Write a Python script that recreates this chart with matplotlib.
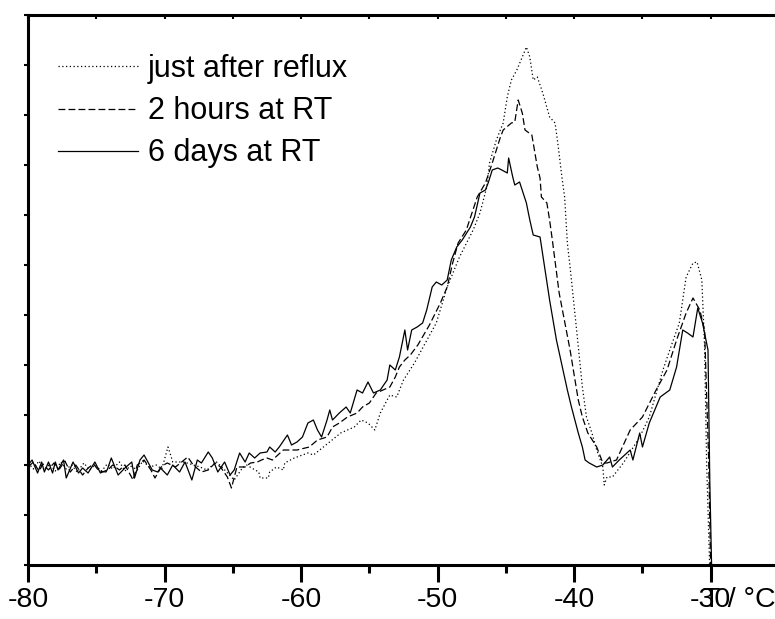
import matplotlib
matplotlib.use("Agg")
import matplotlib.pyplot as plt
import matplotlib.transforms as mtransforms

plt.rcParams['font.family'] = ['Liberation Sans', 'DejaVu Sans']

# ---------------- data (temperature in degC, signal in arbitrary units) -------------
labels = ["just after reflux", "2 hours at RT", "6 days at RT"]

t_6days = [-80.0, -79.7, -79.3, -79.0, -78.8, -78.5, -78.2, -78.0, -77.8, -77.4, -77.2,
           -76.7, -76.3, -76.0, -75.6, -75.1, -74.7, -74.2, -73.9, -73.4, -72.9, -72.4,
           -72.2, -71.8, -71.5, -70.9, -70.5, -70.3, -69.8, -69.4, -68.9, -68.5, -68.0,
           -67.6, -67.3, -66.8, -66.5, -66.1, -65.6, -65.2, -64.9, -64.5, -64.1, -63.8,
           -63.4, -63.0, -62.5, -62.3, -61.9, -61.6, -61.0, -60.7, -60.3, -59.9, -59.5,
           -59.1, -58.8, -58.5, -58.1, -57.9, -57.7, -57.2, -56.7, -56.4, -55.9, -55.5,
           -55.1, -54.7, -54.2, -53.7, -53.5, -53.1, -52.8, -52.4, -52.2, -51.9, -51.5,
           -51.1, -50.8, -50.4, -50.1, -49.7, -49.3, -49.0, -48.6, -48.2, -47.6, -47.3,
           -46.9, -46.5, -46.3, -46.0, -45.6, -45.3, -44.9, -44.8, -44.5, -44.35, -44.0,
           -43.5, -43.4, -43.25, -43.0, -42.5, -41.8, -41.3, -40.5, -40.2, -39.7, -39.4,
           -39.2, -38.9, -38.35, -37.9, -37.4, -37.2, -36.7, -35.9, -35.7, -35.2, -35.0,
           -34.5, -33.7, -33.0, -32.5, -32.05, -31.7, -31.3, -30.95, -30.6, -30.2, -30.07,
           -29.93]
s_6days = [100, 105, 92, 103, 93, 103, 92, 103, 95, 105, 87,
           103, 92, 97, 92, 103, 92, 95, 107, 90, 97, 103,
           87, 105, 110, 95, 93, 97, 90, 100, 93, 103, 85,
           105, 102, 113, 107, 93, 103, 90, 95, 112, 103, 112,
           107, 112, 113, 118, 113, 118, 130, 120, 123, 128, 142,
           145, 135, 128, 145, 155, 145, 152, 158, 152, 175, 172,
           183, 172, 175, 185, 200, 195, 208, 235, 215, 235, 238,
           242, 255, 278, 283, 280, 285, 305, 318, 325, 338, 348,
           372, 375, 382, 395, 397, 395, 392, 407, 388, 380, 383,
           362, 355, 345, 330, 328, 265, 225, 175, 158, 132, 118,
           105, 102, 98, 100, 108, 98, 105, 115, 105, 132, 118,
           142, 168, 175, 198, 235, 232, 228, 257, 242, 215, 85,
           -5]

t_2hours = [-80.0, -79.6, -79.2, -78.9, -78.5, -78.1, -77.7, -77.3, -76.9, -76.5, -76.0,
            -75.6, -75.2, -74.8, -74.3, -73.8, -73.3, -72.9, -72.3, -72.0, -71.5, -71.0,
            -70.7, -70.2, -69.8, -69.2, -68.3, -67.9, -67.3, -66.8, -66.3, -65.9, -65.4,
            -65.1, -64.7, -64.1, -63.7, -63.2, -62.9, -62.5, -62.1, -61.7, -61.3, -60.8,
            -60.3, -59.4, -58.8, -58.1, -57.7, -57.2, -56.6, -55.9, -55.5, -55.0, -54.5,
            -54.0, -53.5, -53.1, -52.8, -52.4, -52.0, -51.45, -50.6, -49.8, -49.3, -48.9,
            -48.5, -47.9, -47.1, -46.5, -46.0, -45.4, -45.2, -44.6, -44.35, -44.1, -43.8,
            -43.6, -43.1, -43.0, -42.7, -42.5, -42.4, -42.0, -41.8, -41.6, -41.1, -40.3,
            -39.7, -39.4, -39.0, -38.35, -37.9, -37.6, -36.9, -35.9, -35.0, -34.0, -33.2,
            -32.5, -31.8, -31.3, -30.8, -30.45, -30.15, -30.0]
s_2hours = [98, 103, 94, 101, 95, 102, 96, 104, 93, 100, 90,
            97, 101, 94, 93, 100, 95, 100, 85, 100, 105, 95,
            87, 99, 102, 98, 108, 100, 93, 95, 102, 98, 88,
            77, 98, 98, 102, 103, 105, 107, 105, 110, 115, 115,
            115, 118, 125, 128, 138, 142, 148, 152, 158, 162, 172,
            175, 178, 188, 198, 205, 210, 220, 240, 262, 278, 302,
            322, 335, 368, 382, 402, 428, 435, 442, 443, 465, 452,
            435, 430, 422, 398, 387, 368, 362, 345, 325, 272, 215,
            165, 148, 132, 118, 102, 102, 105, 135, 148, 175, 195,
            225, 252, 267, 255, 235, 105, -5]

t_reflux = [-80.0, -79.6, -79.2, -78.8, -78.4, -78.0, -77.6, -77.2, -76.8, -76.4, -75.9,
            -75.5, -75.1, -74.6, -74.2, -73.8, -73.3, -72.9, -72.5, -72.0, -71.6, -71.1,
            -70.6, -70.2, -69.75, -69.6, -69.4, -68.6, -67.4, -66.9, -66.2, -65.8, -64.9,
            -64.3, -64.0, -63.1, -63.0, -62.4, -62.3, -61.8, -61.3, -61.2, -60.5, -59.5,
            -59.1, -58.0, -57.1, -56.1, -55.6, -55.1, -54.6, -54.2, -53.5, -53.0, -52.5,
            -51.7, -50.1, -49.3, -48.4, -47.4, -46.9, -46.4, -46.2, -45.7, -45.2, -44.9,
            -44.6, -44.2, -43.8, -43.5, -43.25, -43.0, -42.7, -42.3, -41.8, -41.4, -41.2,
            -40.9, -40.7, -40.5, -40.3, -39.8, -39.4, -39.1, -38.7, -38.35, -37.9, -37.8,
            -37.6, -37.2, -36.4, -35.2, -34.5, -33.5, -33.0, -32.3, -31.8, -31.3, -31.0,
            -30.65, -30.6, -30.45, -30.3, -30.07]
s_reflux = [102, 96, 104, 95, 101, 94, 103, 96, 100, 93, 102,
            95, 100, 94, 101, 96, 103, 94, 99, 95, 104, 98,
            100, 96, 118, 112, 103, 103, 98, 95, 103, 98, 85,
            97, 100, 93, 87, 87, 93, 98, 95, 102, 107, 112,
            110, 122, 132, 138, 145, 142, 135, 152, 170, 168, 185,
            202, 242, 278, 308, 335, 352, 378, 402, 425, 442, 468,
            485, 495, 508, 518, 508, 485, 488, 472, 448, 442, 422,
            388, 368, 322, 298, 232, 178, 148, 132, 115, 98, 80,
            88, 88, 102, 128, 148, 195, 215, 242, 288, 302, 303,
            285, 268, 218, 102, -5]

x_major = [-80, -70, -60, -50, -40, -30]
x_minor = [-75, -65, -55, -45, -35, -25]
y_ticks = list(range(0, 551, 50))

# ---------------- figure ----------------
W, H = 775, 619
fig = plt.figure(figsize=(W / 100, H / 100), dpi=100)
ax_l, ax_r, ax_t, ax_b = 28, 779, 15, 565
ax = fig.add_axes([ax_l / W, (H - ax_b) / H, (ax_r - ax_l) / W, (ax_b - ax_t) / H])

lw = 0.9
ax.plot(t_reflux, s_reflux, color='black', lw=lw, linestyle=(0, (1, 2)), label=labels[0])
ax.plot(t_2hours, s_2hours, color='black', lw=lw, linestyle=(0, (5.5, 2.5)), label=labels[1])
ax.plot(t_6days, s_6days, color='black', lw=lw, linestyle='-', label=labels[2])

ax.set_xlim(-80, -25)
ax.set_ylim(0, 550)

for side in ['left', 'top', 'bottom']:
    ax.spines[side].set_linewidth(2.2)
ax.spines['right'].set_visible(False)

ax.set_xticks(x_major)
ax.set_xticks(x_minor, minor=True)
ax.set_xticklabels([str(v) for v in x_major])
ax.tick_params(axis='x', which='major', direction='out', length=12, width=2.2,
               labelsize=20.5, pad=4)
ax.tick_params(axis='x', which='minor', direction='out', length=6, width=2.2)

ax.set_yticks(y_ticks)
ax.tick_params(axis='y', which='major', direction='out', length=3, width=1.5,
               labelleft=False)

# top axis small inward ticks
sec = ax.secondary_xaxis('top')
sec.set_xticks(x_major + x_minor)
sec.tick_params(direction='in', length=3, width=1.5, labeltop=False)
sec.spines['top'].set_visible(False)

# axis title, sitting on the tick-label line as in the original
off = mtransforms.offset_copy(ax.get_xaxis_transform(), fig=fig, x=0, y=-16, units='points')
ax.text(-30.6, 0, 'T / °C', transform=off, ha='left', va='top', fontsize=20.5)

leg = ax.legend(loc='upper left', bbox_to_anchor=(0.040, 0.929), frameon=False,
                fontsize=22, handlelength=2.61, handletextpad=0.33, labelspacing=0.4,
                borderpad=0, borderaxespad=0)

fig.savefig('out.png', dpi=100)
